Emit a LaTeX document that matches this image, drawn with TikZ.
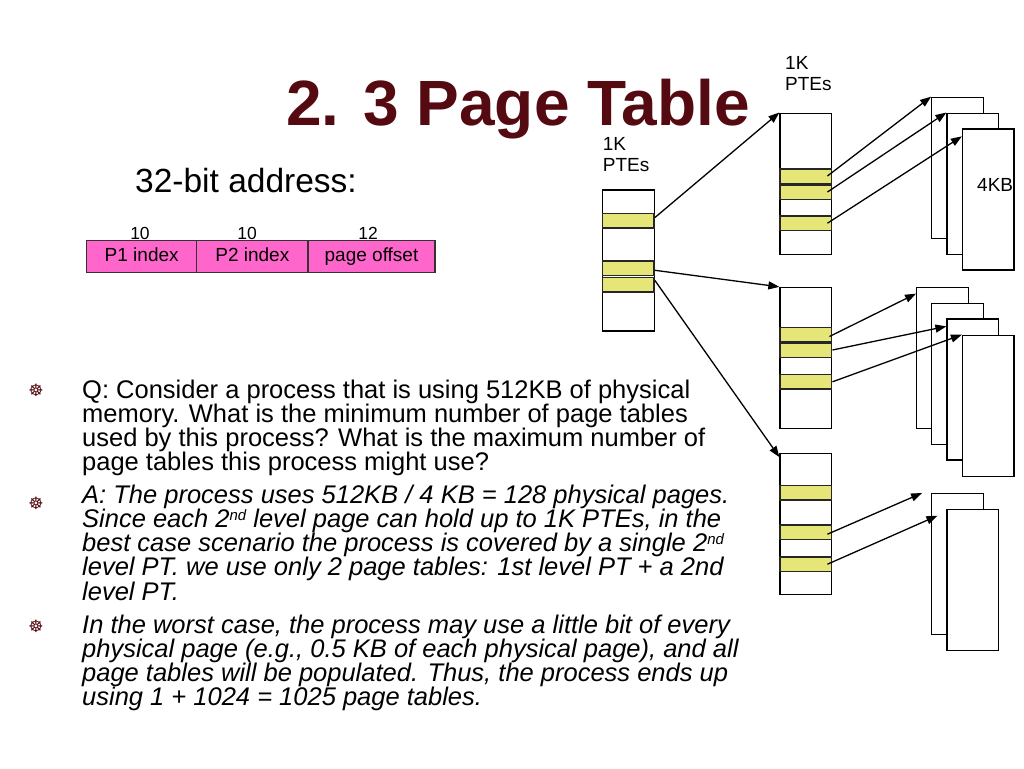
\documentclass[tikz,border=0pt]{standalone}
\usepackage{fontspec}
\setmainfont{Liberation Sans}
\newfontfamily\symfont{DejaVu Sans}
\usetikzlibrary{arrows.meta}
\definecolor{titlered}{RGB}{84,10,16}
\definecolor{fieldpink}{RGB}{255,102,204}
\definecolor{pteyellow}{RGB}{230,230,120}
\newcommand{\mysupnd}{\raisebox{7pt}{\fontsize{15}{15}\selectfont nd}}
\begin{document}
\begin{tikzpicture}[x=1pt,y=-1pt,
  tbl/.style={draw=black,line width=1.3pt,fill=white,minimum width=51.7pt,minimum height=141pt,inner sep=0pt,anchor=center},
  pte/.style={draw=black!85,line width=1.5pt,fill=pteyellow,minimum width=51.7pt,minimum height=14.5pt,inner sep=0pt},
  pg/.style={draw=black,line width=1.3pt,fill=white,minimum width=51.6pt,minimum height=141pt,inner sep=0pt},
  arr/.style={-{Triangle[length=11pt,width=8pt]},line width=1.3pt},
  fld/.style={draw=black!80,line width=1.4pt,fill=fieldpink,minimum height=32pt,inner sep=0pt,text height=13.5pt,text depth=4pt,font=\fontsize{19}{19}\selectfont},
  lbl/.style={anchor=base west,inner sep=0pt,font=\fontsize{19}{19}\selectfont},
  num/.style={anchor=base,inner sep=0pt,font=\fontsize{17.5}{17.5}\selectfont},
  body/.style={anchor=base west,inner sep=0pt,font=\fontsize{25.5}{25.5}\selectfont},
  ibody/.style={anchor=base west,inner sep=0pt,font=\fontsize{25.5}{25.5}\selectfont\itshape},
  bul/.style={inner sep=0pt,text=titlered,font=\symfont\fontsize{17}{17}\selectfont}
]
\fill[white] (0,0) rectangle (1024,768);
\useasboundingbox (0,0) rectangle (1024,768);

% title
\node[anchor=base west,inner sep=0pt,text=titlered,font=\fontsize{64}{64}\selectfont\bfseries] (title) at (286,125) {2. 3 Page Table};
\node[anchor=base west,inner sep=0pt,font=\fontsize{33.5}{33.5}\selectfont] (addr) at (135,192.3) {32-bit address:};

% address fields
\node[fld,minimum width=110pt] (f1) at (141.7,256.7) {P1 index};
\node[fld,minimum width=111.3pt] (f2) at (252.35,256.7) {P2 index};
\node[fld,minimum width=127pt] (f3) at (371.5,256.7) {page offset};
\node[num] (n1) at (140,239) {10};
\node[num] (n2) at (247,239) {10};
\node[num] (n3) at (368,239) {12};

% labels
\node[lbl] (k1a) at (602.7,150) {1K};
\node[lbl] (k1b) at (602.7,171.7) {PTEs};
\node[lbl] (k2a) at (785,70) {1K};
\node[lbl] (k2b) at (785,90.7) {PTEs};

% level 1 table
\node[tbl] (t1) at (628.35,260.5) {};
\node[pte] (r11) at (628.35,220.5) {};
\node[pte] (r12) at (628.35,268.3) {};
\node[pte] (r13) at (628.35,284.5) {};

% level 2 tables
\node[tbl] (tA) at (805.85,183.65) {};
\node[pte] (rA1) at (805.85,176) {};
\node[pte] (rA2) at (805.85,192) {};
\node[pte] (rA3) at (805.85,223.2) {};

\node[tbl] (tB) at (805.85,358) {};
\node[pte] (rB1) at (805.85,334.5) {};
\node[pte] (rB2) at (805.85,350) {};
\node[pte] (rB3) at (805.85,381.8) {};

\node[tbl] (tC) at (805.85,524.2) {};
\node[pte] (rC1) at (805.85,492.9) {};
\node[pte] (rC2) at (805.85,532.2) {};
\node[pte] (rC3) at (805.85,564.2) {};

% physical pages
\node[pg] (pA1) at (957.5,167.8) {};
\node[pg] (pA2) at (972.85,183.65) {};
\node[pg] (pA3) at (988.3,199.5) {};
\node[lbl] (kb) at (977,191.7) {4KB};

\node[pg] (pB1) at (942.5,357.8) {};
\node[pg] (pB2) at (957.5,373.8) {};
\node[pg] (pB3) at (972.85,389.5) {};
\node[pg] (pB4) at (988.3,405.85) {};

\node[pg] (pC1) at (957.5,564.15) {};
\node[pg] (pC2) at (972.85,579.85) {};

% arrows level 1 -> level 2
\draw[arr] ([yshift=3pt]r11.east) -- (tA.north west);
\draw[arr] ([yshift=-2pt]r12.east) -- (tB.north west);
\draw[arr] ([yshift=4pt]r13.east) -- ([yshift=-4pt]tC.north west);

% arrows level 2 -> pages
\draw[arr] ([xshift=-5pt]rA1.east) -- (pA1.north west);
\draw[arr] ([xshift=-5pt]rA2.east) -- (pA2.north west);
\draw[arr] ([xshift=-5pt]rA3.east) -- ([yshift=-8pt]pA3.north west);

\draw[arr] ([xshift=-3pt,yshift=-2pt]rB1.east) -- ([yshift=-7pt]pB1.north west);
\draw[arr] (rB2.east) -- ([yshift=-8pt]pB3.north west);
\draw[arr] (rB3.east) -- (pB4.north west);

\draw[arr] ([xshift=-5pt,yshift=-2pt]rC2.east) -- ([xshift=-9pt]pC1.north west);
\draw[arr] ([xshift=-5pt]rC3.east) -- ([xshift=-9pt,yshift=-7pt]pC2.north west);

% bullets
\node[bul] (b1) at (36,390.5) {☸};
\node[bul] (b2) at (36,503.5) {☸};
\node[bul] (b3) at (36,626) {☸};

% body text
\node[body] (l1) at (82,398) {Q: Consider a process that is using 512KB of physical};
\node[body] (l2) at (82,422.3) {memory. What is the minimum number of page tables};
\node[body] (l3) at (82,446.6) {used by this process? What is the maximum number of};
\node[body] (l4) at (82,470.9) {page tables this process might use?};

\node[ibody] (l5) at (82,503) {A: The process uses 512KB / 4 KB = 128 physical pages.};
\node[ibody] (l6) at (82,527.3) {Since each 2\mysupnd{} level page can hold up to 1K PTEs, in the};
\node[ibody] (l7) at (82,551.6) {best case scenario the process is covered by a single 2\mysupnd};
\node[ibody] (l8) at (82,575.9) {level PT. we use only 2 page tables: 1st level PT + a 2nd};
\node[ibody] (l9) at (82,600.2) {level PT.};

\node[ibody] (l10) at (82,633) {In the worst case, the process may use a little bit of every};
\node[ibody] (l11) at (82,657.3) {physical page (e.g., 0.5 KB of each physical page), and all};
\node[ibody] (l12) at (82,681.6) {page tables will be populated. Thus, the process ends up};
\node[ibody] (l13) at (82,705.9) {using 1 + 1024 = 1025 page tables.};
\end{tikzpicture}
\end{document}
